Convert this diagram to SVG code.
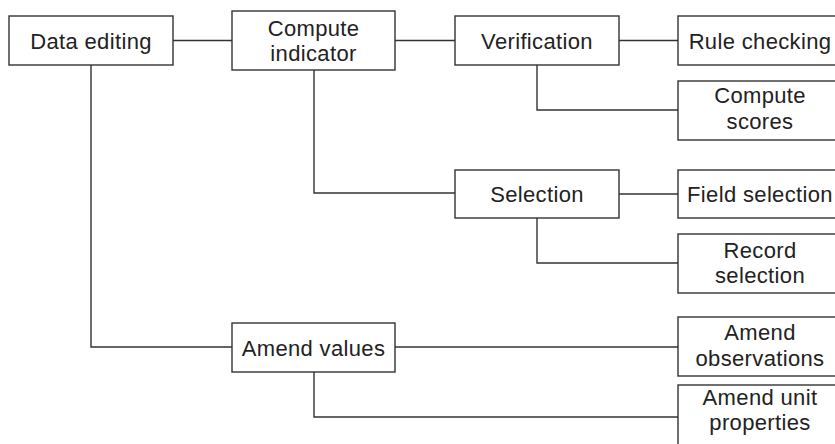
<svg xmlns="http://www.w3.org/2000/svg" width="835" height="444" viewBox="0 0 835 444">
  <style>
    .box { fill: #ffffff; stroke: #333333; stroke-width: 1.4; }
    .lbl { font-family: "Liberation Sans", Arial, sans-serif; font-size: 22px; letter-spacing: 0.35px; fill: #222222; text-anchor: middle; }
    .wire { fill: none; stroke: #333333; stroke-width: 1.4; }
  </style>
  <rect width="835" height="444" fill="#ffffff"/>

  <!-- tree connectors -->
  <g id="connectors">
    <path class="wire" d="M173 40.5 H232"/>
    <path class="wire" d="M395 40.5 H455"/>
    <path class="wire" d="M619 40.5 H678"/>
    <path class="wire" d="M537 65 V110 H678"/>
    <path class="wire" d="M314 70 V193 H455"/>
    <path class="wire" d="M619 194 H678"/>
    <path class="wire" d="M537 218 V263 H678"/>
    <path class="wire" d="M91 65 V347 H232"/>
    <path class="wire" d="M395 347 H678"/>
    <path class="wire" d="M314 372 V417 H678"/>
  </g>

  <g id="data-editing">
    <rect class="box" x="9" y="16" width="164" height="49"/>
    <text class="lbl" x="91" y="48.5">Data editing</text>
  </g>
  <g id="compute-indicator">
    <rect class="box" x="232" y="11" width="163" height="59"/>
    <text class="lbl" x="313.5" y="36">Compute</text>
    <text class="lbl" x="313.5" y="61">indicator</text>
  </g>
  <g id="verification">
    <rect class="box" x="455" y="16" width="164" height="49"/>
    <text class="lbl" x="537" y="48.5">Verification</text>
  </g>
  <g id="rule-checking">
    <rect class="box" x="678" y="16" width="164" height="49"/>
    <text class="lbl" x="760" y="48.5">Rule checking</text>
  </g>
  <g id="compute-scores">
    <rect class="box" x="678" y="81" width="164" height="59"/>
    <text class="lbl" x="760" y="103">Compute</text>
    <text class="lbl" x="760" y="129">scores</text>
  </g>
  <g id="selection">
    <rect class="box" x="455" y="170" width="164" height="48"/>
    <text class="lbl" x="537" y="202">Selection</text>
  </g>
  <g id="field-selection">
    <rect class="box" x="678" y="170" width="164" height="48"/>
    <text class="lbl" x="760" y="202">Field selection</text>
  </g>
  <g id="record-selection">
    <rect class="box" x="678" y="234" width="164" height="59"/>
    <text class="lbl" x="760" y="258">Record</text>
    <text class="lbl" x="760" y="283">selection</text>
  </g>
  <g id="amend-values">
    <rect class="box" x="232" y="323" width="163" height="49"/>
    <text class="lbl" x="313.5" y="355.5">Amend values</text>
  </g>
  <g id="amend-observations">
    <rect class="box" x="678" y="317" width="164" height="59"/>
    <text class="lbl" x="760" y="340">Amend</text>
    <text class="lbl" x="760" y="366">observations</text>
  </g>
  <g id="amend-unit-properties">
    <rect class="box" x="678" y="385" width="164" height="64"/>
    <text class="lbl" x="760" y="405">Amend unit</text>
    <text class="lbl" x="760" y="430">properties</text>
  </g>
</svg>
